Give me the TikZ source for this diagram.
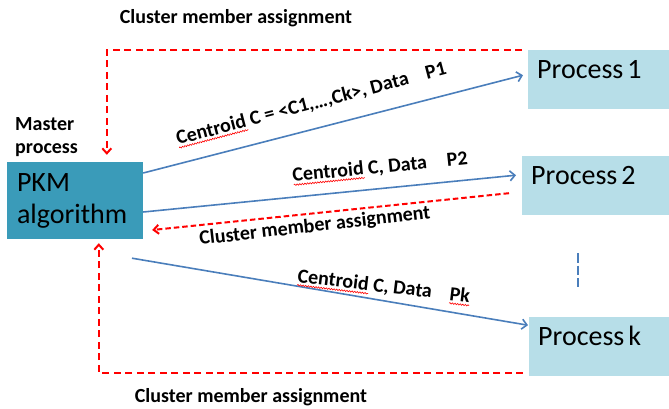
\documentclass[tikz,border=0pt]{standalone}
\usepackage{fontspec}
\setmainfont{Carlito}
\usetikzlibrary{arrows.meta,calc,decorations.pathmorphing}
\definecolor{pkmfill}{RGB}{58,155,185}
\definecolor{procfill}{RGB}{183,222,232}
\definecolor{lineblue}{RGB}{74,126,187}
\definecolor{dashred}{RGB}{255,0,0}
\newlength\wvlen
\newcommand\redwave[1]{\settowidth\wvlen{#1}\rlap{\raisebox{-3pt}[0pt][0pt]{\tikz[baseline=0pt]{\draw[dashred,line width=0.6pt,decorate,decoration={snake,amplitude=0.7pt,segment length=2.6pt}] (0pt,0pt) -- (\wvlen,0pt);}}}#1}
\begin{document}
\begin{tikzpicture}[x=1pt,y=-1pt,
  lbl/.style={font=\fontsize{20}{23}\selectfont\bfseries, inner sep=0pt},
  proc/.style={fill=procfill, anchor=north west, inner xsep=9pt, inner ysep=0pt, text height=28pt, text depth=31pt, align=left, font=\fontsize{28}{32}\selectfont},
  reddash/.style={dashred, line width=2pt, dash pattern=on 7pt off 4.5pt, -{Straight Barb[length=5pt,width=9pt]}},
  bluearrow/.style={lineblue, line width=1.6pt, -{Straight Barb[length=5pt,width=10pt]}}]
\useasboundingbox (0,0) rectangle (669,408);
\node[fill=pkmfill, minimum width=136pt, minimum height=77pt, text width=116pt, inner xsep=10pt, align=left, font=\fontsize{28}{32}\selectfont] (pkm) at (75,200.5) {PKM\\algorithm};
\node[proc, text width=123pt] (p1) at (528,50) {Process\hspace{4pt}1};
\node[proc, text width=129pt] (p2) at (522,156) {Process\hspace{4pt}2};
\node[proc, text width=122pt] (pk) at (529,317) {Process\hspace{4pt}k};

\draw[reddash] ($(p1.north west)+(-6,0)$) -| ($(pkm.north west)+(100,-7)$);
\draw[reddash] ($(pk.south west)+(-6,-3.5)$) -| ($(pkm.south west)+(92,4)$);
\draw[reddash, dash pattern=on 5.5pt off 3pt] ($(p2.west)+(-13,7.5)$) -- ($(pkm.east)+(9,29.5)$);
\draw[bluearrow] ($(pkm.east)+(0,-27.5)$) -- ($(p1.west)+(-5,-4.5)$);
\draw[bluearrow] ($(pkm.east)+(0,11.5)$) -- ($(p2.west)+(-6,-10.5)$);
\draw[bluearrow] ($(pkm.south)+(57,19)$) -- ($(pk.west)+(-1,-21.5)$);
\coordinate (d1) at (578,253);
\coordinate (d2) at (578,287);
\draw[lineblue, line width=2.5pt, dash pattern=on 9.5pt off 3pt] (d1) -- (d2);

\node[lbl, anchor=base] (ttop) at (236,23) {Cluster member assignment};
\node[lbl, anchor=base] (tbot) at (251,402) {Cluster member assignment};
\node[lbl, anchor=north west, align=left] (master) at (15,117) {Master\\process};
\node[lbl, anchor=base west, rotate=14.7] (l1) at (178,145) {\redwave{Centroid} C = <C1,…,Ck>, Data\hspace{18pt}P1};
\node[lbl, anchor=base west, rotate=5.8] (l2) at (293,182) {\redwave{Centroid} C, Data\hspace{20pt}P2};
\node[lbl, anchor=base west, rotate=6.5] (l3) at (200,245) {Cluster member assignment};
\node[lbl, anchor=base west, rotate=-6.8] (l4) at (297,282) {\redwave{Centroid} C, Data\hspace{18pt}\redwave{Pk}};
\end{tikzpicture}
\end{document}
